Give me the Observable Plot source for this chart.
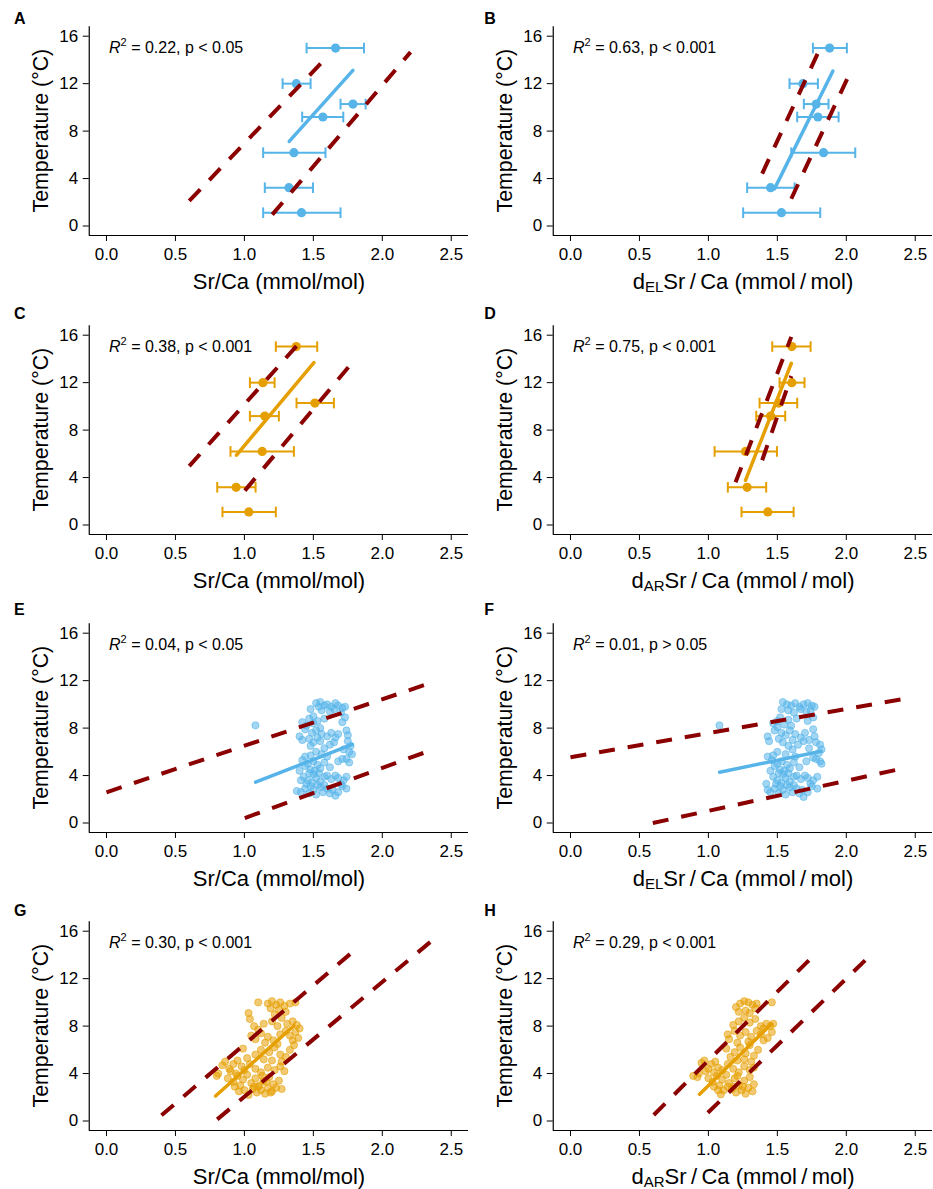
<!DOCTYPE html>
<html>
<head>
<meta charset="utf-8">
<script src="https://cdn.jsdelivr.net/npm/d3@7"></script>
<script src="https://cdn.jsdelivr.net/npm/@observablehq/plot@0.6"></script>
<style>
  html, body { margin: 0; padding: 0; background: #fff; }
  body { width: 933px; height: 1189px; overflow: hidden; position: relative; font-family: "Liberation Sans", Arial, Helvetica, sans-serif; }
  .panel { position: absolute; }
</style>
</head>
<body>
<div id="root"></div>
<script>
const BLUE = "#56B4E9", ORANGE = "#E69F00", DARKRED = "#8B0000";

const xTicks = [0, 0.5, 1.0, 1.5, 2.0, 2.5];
const yTicks = [0, 4, 8, 12, 16];

// mean points: [x, temperature, xmin, xmax]
const meanA = [[1.661,15.0,1.451,1.867],[1.376,12.0,1.277,1.480],[1.787,10.28,1.697,1.879],[1.569,9.19,1.419,1.717],[1.359,6.18,1.136,1.588],[1.323,3.23,1.148,1.497],[1.414,1.12,1.136,1.697]];
const meanB = [[1.879,15.0,1.758,2.004],[1.685,12.0,1.588,1.794],[1.782,10.28,1.692,1.871],[1.794,9.19,1.644,1.944],[1.835,6.18,1.601,2.065],[1.451,3.23,1.281,1.625],[1.530,1.12,1.252,1.811]];
const meanC = [[1.376,15.04,1.228,1.528],[1.134,12.0,1.040,1.219],[1.511,10.28,1.378,1.649],[1.148,9.18,1.040,1.250],[1.129,6.20,0.899,1.359],[0.940,3.18,0.803,1.081],[1.032,1.10,0.841,1.228]];
const meanD = [[1.605,15.04,1.463,1.741],[1.605,12.0,1.516,1.697],[1.509,10.28,1.371,1.644],[1.451,9.18,1.347,1.557],[1.269,6.20,1.045,1.497],[1.281,3.18,1.141,1.419],[1.431,1.10,1.240,1.618]];

// individual samples: [x, temperature]
const ptsE = [[1.08,8.23],
 [1.48,9.6],[1.52,10.1],[1.55,10.2],[1.58,9.9],[1.60,10.0],[1.63,9.8],[1.66,10.1],[1.68,9.9],[1.71,9.7],[1.73,9.8],[1.56,9.5],[1.62,9.4],[1.65,9.6],[1.70,9.3],[1.54,9.8],
 [1.42,8.5],[1.47,8.8],[1.50,9.0],[1.53,8.6],[1.45,8.2],[1.58,8.8],[1.50,8.4],[1.55,8.0],[1.73,8.9],[1.71,8.5],
 [1.44,7.9],[1.40,7.3],[1.42,7.0],[1.49,7.6],[1.52,7.8],[1.56,7.5],[1.60,7.3],[1.63,7.6],[1.66,7.2],[1.74,7.8],[1.75,7.4],[1.53,7.2],[1.47,7.1],[1.68,7.5],
 [1.50,6.8],[1.48,6.5],[1.55,6.9],[1.58,6.3],[1.62,6.6],[1.65,6.8],[1.72,6.2],[1.75,6.9],[1.77,6.5],[1.76,6.0],[1.52,6.0],[1.56,5.8],[1.60,5.6],[1.48,5.7],[1.44,5.6],[1.78,5.8],[1.71,5.4],
 [1.42,5.3],[1.46,5.0],[1.50,5.2],[1.53,4.9],[1.55,4.6],[1.48,4.5],[1.44,4.8],[1.58,5.1],[1.62,4.7],[1.68,5.2],[1.74,5.4],[1.76,5.1],[1.51,4.4],[1.40,4.4],[1.47,4.2],
 [1.43,3.9],[1.46,3.6],[1.50,4.1],[1.52,3.8],[1.55,3.5],[1.58,3.9],[1.49,3.4],[1.45,3.3],[1.60,4.0],[1.63,3.7],[1.66,4.0],[1.68,3.8],[1.72,3.6],[1.70,3.3],[1.74,3.9],[1.41,3.6],[1.54,4.2],
 [1.38,2.7],[1.41,2.6],[1.44,2.9],[1.47,2.5],[1.50,2.8],[1.52,2.4],[1.55,3.0],[1.57,2.6],[1.60,2.9],[1.62,2.5],[1.64,2.8],[1.66,2.3],[1.68,2.6],[1.71,3.1],[1.74,2.9],[1.48,3.1],[1.53,3.2],[1.58,3.2]];
const ptsF = [[1.08,8.23],
 [1.54,10.2],[1.57,10.0],[1.60,9.9],[1.63,10.1],[1.66,9.8],[1.69,10.0],[1.72,10.1],[1.75,9.9],[1.77,9.8],[1.53,9.6],[1.58,9.5],[1.62,9.3],[1.67,9.6],[1.71,9.4],[1.74,9.5],
 [1.47,8.4],[1.50,8.6],[1.52,8.9],[1.55,8.3],[1.58,8.7],[1.60,8.2],[1.64,8.8],[1.50,8.1],[1.72,8.6],[1.76,8.9],
 [1.43,7.3],[1.44,6.9],[1.48,7.8],[1.53,7.6],[1.56,7.4],[1.59,7.8],[1.63,7.5],[1.67,7.2],[1.70,7.6],[1.76,7.9],[1.77,7.3],[1.61,7.0],[1.51,7.1],[1.73,7.0],
 [1.54,6.8],[1.58,6.5],[1.61,6.2],[1.65,6.6],[1.69,6.9],[1.73,6.3],[1.78,6.8],[1.81,6.6],[1.82,6.2],[1.80,5.9],[1.50,6.0],[1.56,5.8],[1.63,5.6],[1.47,5.7],[1.43,5.6],[1.76,5.5],[1.81,5.2],
 [1.46,5.3],[1.50,5.0],[1.53,5.2],[1.57,4.9],[1.59,4.6],[1.52,4.5],[1.48,4.8],[1.62,5.1],[1.66,4.7],[1.71,5.2],[1.78,5.4],[1.82,5.0],[1.55,4.4],[1.45,4.4],[1.51,4.2],
 [1.47,3.9],[1.50,3.6],[1.54,4.1],[1.56,3.8],[1.59,3.5],[1.62,3.9],[1.53,3.4],[1.49,3.3],[1.64,4.0],[1.67,3.7],[1.70,4.0],[1.72,3.8],[1.76,3.6],[1.74,3.3],[1.79,3.9],[1.42,3.3],[1.58,4.2],
 [1.43,2.8],[1.45,2.6],[1.48,2.9],[1.51,2.5],[1.54,2.8],[1.56,2.4],[1.59,3.0],[1.61,2.6],[1.64,2.9],[1.66,2.5],[1.68,2.8],[1.69,2.2],[1.72,2.6],[1.75,3.1],[1.79,2.9],[1.52,3.1],[1.57,3.2],[1.62,3.2]];
const ptsG = [
 [1.10,10.0],[1.17,9.9],[1.20,10.1],[1.23,9.8],[1.26,10.0],[1.29,9.7],[1.33,9.9],[1.37,10.0],[1.19,9.5],[1.25,9.4],[1.30,9.2],[1.03,9.1],[1.04,8.6],[1.22,9.0],
 [1.07,8.0],[1.14,8.2],[1.20,8.4],[1.27,8.7],[1.31,8.2],[1.35,8.4],[1.38,8.1],[1.40,7.8],[1.24,8.0],[1.10,7.7],
 [1.05,7.2],[1.08,6.9],[1.12,7.4],[1.17,7.1],[1.21,6.8],[1.26,7.3],[1.30,7.6],[1.33,7.2],[1.37,7.5],[1.39,7.0],[1.15,6.6],[1.24,6.5],[1.35,6.8],
 [0.99,6.1],[1.02,5.3],[1.08,5.6],[1.12,6.0],[1.18,5.8],[1.22,6.2],[1.26,5.6],[1.30,5.4],[1.33,6.0],[1.36,6.4],[1.14,5.2],[1.20,5.1],[1.27,5.0],
 [0.81,4.0],[0.84,4.7],[0.86,5.0],[0.89,4.4],[0.92,4.8],[0.95,5.1],[0.98,4.6],[0.90,4.2],[0.94,4.0],[1.00,4.3],[1.04,4.8],[1.08,4.4],[1.12,4.1],[1.17,4.5],[1.22,4.3],[1.26,4.6],[1.29,4.2],[0.80,3.8],
 [0.88,3.6],[0.92,3.3],[0.95,3.8],[0.97,3.0],[0.99,3.5],[1.00,2.6],[1.02,3.9],[1.03,2.2],[1.05,3.2],[1.06,2.7],[1.08,3.6],[1.09,2.4],[1.11,3.0],[1.12,2.6],[1.14,3.4],[1.15,2.3],[1.17,2.8],[1.18,3.7],[1.20,2.5],[1.21,3.1],[1.23,2.8],[1.25,3.4],[1.27,2.7],[1.10,2.9],[1.13,3.8],[1.07,2.9],[0.96,2.5],[0.93,2.9],[1.16,3.3],[1.19,2.4]];
const ptsH = [
 [1.20,9.6],[1.23,9.9],[1.26,10.1],[1.29,10.0],[1.32,9.8],[1.34,9.5],[1.27,9.3],[1.30,9.1],[1.46,10.0],[1.22,9.2],[1.35,9.9],
 [1.18,8.1],[1.22,8.4],[1.26,8.7],[1.30,8.3],[1.34,8.6],[1.38,8.0],[1.42,8.2],[1.45,8.0],[1.47,8.2],[1.40,7.8],
 [1.14,7.3],[1.15,6.9],[1.19,7.6],[1.23,7.2],[1.27,7.5],[1.31,7.1],[1.35,7.6],[1.38,7.3],[1.43,7.0],[1.46,7.5],[1.21,6.6],[1.29,6.7],[1.40,6.8],
 [1.13,6.1],[1.16,5.4],[1.19,5.8],[1.23,6.2],[1.27,5.7],[1.30,6.4],[1.33,5.5],[1.36,6.0],[1.26,5.2],[1.31,5.0],[1.21,5.1],
 [0.93,4.0],[0.95,4.9],[0.97,5.1],[1.00,4.4],[1.02,4.8],[1.05,5.0],[1.07,4.5],[0.98,4.2],[1.04,4.1],[1.10,4.3],[1.14,4.8],[1.18,4.4],[1.22,4.1],[1.26,4.6],[1.30,4.3],[1.33,4.5],[0.89,3.8],[0.92,3.7],
 [1.00,3.6],[1.03,3.3],[1.06,3.8],[1.08,3.0],[1.10,3.5],[1.11,2.6],[1.13,3.9],[1.09,2.25],[1.15,3.2],[1.17,2.7],[1.19,3.6],[1.20,2.4],[1.22,3.0],[1.24,2.6],[1.26,3.4],[1.27,2.3],[1.29,2.8],[1.30,3.7],[1.32,2.5],[1.33,3.1],[1.18,2.9],[1.21,3.8],[1.14,2.9],[1.07,2.6],[1.04,2.9],[1.25,2.9]];

// regression lines: [x, temperature] end points
const regA = [[1.325,7.13],[1.787,13.12]];
const regB = [[1.480,3.15],[1.903,13.06]];
const regC = [[0.943,5.89],[1.504,13.69]];
const regD = [[1.269,3.77],[1.601,13.63]];
const regE = [[1.081,3.44],[1.782,6.62]];
const regF = [[1.081,4.28],[1.818,6.05]];
const regG = [[0.791,2.11],[1.359,8.03]];
const regH = [[0.936,2.25],[1.456,8.17]];

// dashed interval lines: [x, temperature] end points (upper, lower)
const upA = [[0.600,2.11],[1.564,13.82]], loA = [[1.202,0.96],[2.205,14.66]];
const upB = [[1.390,4.41],[1.794,14.58]], loB = [[1.601,2.30],[2.007,12.42]];
const upC = [[0.600,4.96],[1.383,15.15]], loC = [[1.003,2.90],[1.758,13.35]];
const upD = [[1.197,3.60],[1.601,15.86]], loD = [[1.390,5.46],[1.601,12.56]];
const upE = [[0.000,2.59],[2.321,11.69]], loE = [[1.003,0.42],[2.302,5.92]];
const upF = [[0.000,5.55],[2.398,10.42]], loF = [[0.597,0.00],[2.374,4.51]];
const upG = [[0.399,0.48],[1.782,14.23]], loG = [[0.803,0.14],[2.367,15.27]];
const upH = [[0.604,0.51],[1.734,13.61]], loH = [[0.996,0.70],[2.152,13.72]];

const r2Values = ["0.22","0.63","0.38","0.75","0.04","0.01","0.30","0.29"];
const pTexts = ["p < 0.05","p < 0.001","p < 0.001","p < 0.001","p < 0.05","p > 0.05","p < 0.001","p < 0.001"];
const letters = ["A","B","C","D","E","F","G","H"];
const xSubs = [null,"EL",null,"AR",null,"EL",null,"AR"];

const panels = [
  {mean: meanA, reg: regA, up: upA, lo: loA, color: BLUE},
  {mean: meanB, reg: regB, up: upB, lo: loB, color: BLUE},
  {mean: meanC, reg: regC, up: upC, lo: loC, color: ORANGE},
  {mean: meanD, reg: regD, up: upD, lo: loD, color: ORANGE},
  {pts: ptsE, reg: regE, up: upE, lo: loE, color: BLUE},
  {pts: ptsF, reg: regF, up: upF, lo: loF, color: BLUE},
  {pts: ptsG, reg: regG, up: upG, lo: loG, color: ORANGE},
  {pts: ptsH, reg: regH, up: upH, lo: loH, color: ORANGE}
];

const W = 469, H = 297, ML = 88.75, MR = 1, MT = 26.2, MB = 62;
const colLeft = [0, 464];
const rowTop = [0, 298.6, 596.6, 895];
const letterBase = [23.5, 19.7, 18.4, 21];
const letterX = [14, 20.3];

const capSymbol = { draw(ctx) { ctx.moveTo(0, -5.3); ctx.lineTo(0, 5.3); } };
const root = document.getElementById("root");

panels.forEach((p, i) => {
  const col = i % 2, row = Math.floor(i / 2);
  const X = d => d[0], Y = d => d[1];
  const marks = [];
  if (p.mean) {
    marks.push(
      Plot.link(p.mean, {x1: d => d[2], x2: d => d[3], y1: d => d[1], y2: d => d[1], stroke: p.color, strokeWidth: 2}),
      Plot.dot(p.mean, {x: d => d[2], y: d => d[1], symbol: capSymbol, stroke: p.color, strokeWidth: 2, fill: "none"}),
      Plot.dot(p.mean, {x: d => d[3], y: d => d[1], symbol: capSymbol, stroke: p.color, strokeWidth: 2, fill: "none"}),
      Plot.dot(p.mean, {x: X, y: Y, r: 4.6, fill: p.color, stroke: "none"})
    );
  } else {
    marks.push(Plot.dot(p.pts, {x: X, y: Y, r: 3.6, fill: p.color, fillOpacity: 0.55, stroke: p.color, strokeOpacity: 0.55, strokeWidth: 1}));
  }
  marks.push(
    Plot.line(p.reg, {x: X, y: Y, stroke: p.color, strokeWidth: 3.5}),
    Plot.line(p.up, {x: X, y: Y, stroke: DARKRED, strokeWidth: 4, strokeDasharray: "16,13", strokeLinecap: "butt"}),
    Plot.line(p.lo, {x: X, y: Y, stroke: DARKRED, strokeWidth: 4, strokeDasharray: "16,13", strokeLinecap: "butt"}),
    Plot.ruleX([-0.125], {stroke: "black", strokeWidth: 1.2}),
    Plot.ruleY([-0.8], {stroke: "black", strokeWidth: 1.2})
  );
  const svg = Plot.plot({
    width: W, height: H,
    marginLeft: ML, marginRight: MR, marginTop: MT, marginBottom: MB,
    style: {fontFamily: "'Liberation Sans', Arial, Helvetica, sans-serif", fontSize: "17px", background: "none", overflow: "visible", color: "black"},
    x: {domain: [-0.125, 2.625], ticks: xTicks, tickFormat: d3.format(".1f"), tickSize: 6, tickPadding: 6, label: null},
    y: {domain: [-0.8, 16.8], ticks: yTicks, tickSize: 6, tickPadding: 5, label: null},
    marks
  });
  const wrap = document.createElement("div");
  wrap.className = "panel";
  wrap.style.left = colLeft[col] + "px";
  wrap.style.top = rowTop[row] + "px";
  wrap.appendChild(svg);
  root.appendChild(wrap);

  const s = d3.select(svg);
  const ff = "'Liberation Sans', Arial, Helvetica, sans-serif";
  // panel letter
  s.append("text").attr("x", letterX[col]).attr("y", letterBase[row]).attr("text-anchor", "start")
    .attr("font-family", ff).attr("font-size", 16).attr("font-weight", "bold").attr("fill", "black").text(letters[i]);
  // y title
  s.append("text").attr("transform", `translate(47.7,${(MT + H - MB) / 2}) rotate(-90)`)
    .attr("text-anchor", "middle").attr("font-family", ff).attr("font-size", 21.3).attr("fill", "black")
    .text("Temperature (°C)");
  // x title
  const xt = s.append("text").attr("x", 279).attr("y", 288.6).attr("text-anchor", "middle")
    .attr("font-family", ff).attr("font-size", 22).attr("fill", "black");
  if (xSubs[i]) {
    xt.append("tspan").text("d");
    xt.append("tspan").attr("font-size", 15).attr("dy", 3.8).text(xSubs[i]);
    xt.append("tspan").attr("dy", -3.8).text("Sr\u2009/\u2009Ca (mmol\u2009/\u2009mol)");
  } else {
    xt.text("Sr/Ca (mmol/mol)");
  }
  // statistics annotation
  const st = s.append("text").attr("x", 109).attr("y", 52.7).attr("text-anchor", "start")
    .attr("font-family", ff).attr("font-size", 16).attr("fill", "black");
  st.append("tspan").attr("font-style", "italic").text("R");
  st.append("tspan").attr("font-size", 11).attr("dy", -6.5).text("2");
  st.append("tspan").attr("dy", 6.5).text(` = ${r2Values[i]}, ${pTexts[i]}`);
});
</script>
</body>
</html>
